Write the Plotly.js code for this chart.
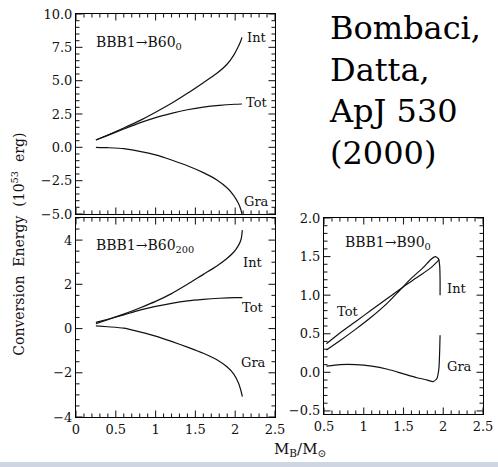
<!DOCTYPE html>
<html>
<head>
<meta charset="utf-8">
<script src="https://cdn.plot.ly/plotly-3.0.1.min.js"></script>
<style>html,body{margin:0;padding:0;background:#fff;}#chart{width:498px;height:467px;}</style>
</head>
<body>
<div id="chart"></div>
<script>
// Panel A: BBB1 -> B60_0
const aIntX = [0.25,0.4,0.6,0.8,1.0,1.2,1.4,1.6,1.77,1.9,1.98,2.03,2.065,2.085];
const aIntY = [0.55,0.92,1.45,2.0,2.63,3.3,4.05,4.85,5.55,6.25,6.9,7.45,7.9,8.25];
const aTotX = [0.25,0.4,0.6,0.8,1.0,1.2,1.4,1.6,1.8,2.0,2.085];
const aTotY = [0.55,0.9,1.37,1.83,2.23,2.55,2.82,3.02,3.15,3.23,3.25];
const aGraX = [0.25,0.4,0.6,0.8,1.0,1.2,1.4,1.6,1.77,1.9,1.98,2.04,2.07,2.085];
const aGraY = [0.0,-0.03,-0.1,-0.3,-0.57,-0.95,-1.38,-1.9,-2.45,-3.05,-3.6,-4.2,-4.65,-5.0];

// Panel B: BBB1 -> B60_200
const bIntX = [0.25,0.4,0.6,0.8,1.0,1.2,1.4,1.6,1.77,1.9,1.98,2.04,2.075,2.09];
const bIntY = [0.22,0.4,0.65,0.93,1.23,1.58,2.0,2.45,2.83,3.18,3.45,3.75,4.05,4.45];
const bTotX = [0.25,0.4,0.6,0.8,1.0,1.2,1.4,1.6,1.8,2.0,2.09];
const bTotY = [0.28,0.42,0.62,0.83,1.0,1.14,1.25,1.32,1.37,1.4,1.4];
const bGraX = [0.25,0.4,0.6,0.8,1.0,1.2,1.4,1.6,1.77,1.9,1.98,2.04,2.07,2.09];
const bGraY = [0.12,0.08,0.02,-0.15,-0.34,-0.58,-0.84,-1.12,-1.41,-1.74,-2.05,-2.45,-2.78,-3.08];

// Panel C: BBB1 -> B90_0
const cTotX = [0.53,0.7,0.9,1.1,1.3,1.5,1.7,1.85,1.95];
const cTotY = [0.37,0.51,0.66,0.81,0.96,1.11,1.25,1.36,1.46];
const cIntX = [0.53,0.7,0.9,1.1,1.3,1.45,1.6,1.75,1.84,1.9,1.94,1.955,1.96,1.96];
const cIntY = [0.29,0.41,0.56,0.72,0.9,1.06,1.22,1.36,1.46,1.5,1.47,1.38,1.2,1.0];
const cGraX = [0.53,0.7,0.9,1.1,1.3,1.5,1.67,1.8,1.87,1.92,1.945,1.955,1.96];
const cGraY = [0.08,0.1,0.1,0.08,0.04,-0.02,-0.07,-0.1,-0.12,-0.08,0.05,0.28,0.48];

const panelNames = ['BBB1→B60<sub>0</sub>','BBB1→B60<sub>200</sub>','BBB1→B90<sub>0</sub>'];
const curveNames = ['Int','Tot','Gra'];
const citation = ['Bombaci,','Datta,','ApJ 530','(2000)'];

const SERIF = 'DejaVu Serif, serif';
const W = 498, H = 467;
const dom = {
  xAB:[0.1526,0.5522], xC:[0.6506,0.9699],
  yA:[0.5418,0.970], yB:[0.1071,0.5332], yC:[0.1135,0.5332]
};
const rng = { xAB:[0,2.5], xC:[0.5,2.5], yA:[-5,10], yB:[-4,5], yC:[-0.54,2.0] };

const lineStyle = {color:'#111', width:1.2, shape:'spline', smoothing:0.6};
function tr(x,y,xa,ya){ return {x:x,y:y,xaxis:xa,yaxis:ya,mode:'lines',line:lineStyle,hoverinfo:'skip'}; }

// inside frame tick marks on all four sides, generated from the axis steps
function seq(a,b,s){ const out=[]; const n=Math.round((b-a)/s); for(let i=0;i<=n;i++) out.push(+(a+i*s).toFixed(4)); return out; }
const MAJ = 6.5, MIN = 3.5;
function tickTrace(xa, ya, xd, yd, xr, yr, xMaj, xMin, yMaj, yMin){
  const wPx = (xd[1]-xd[0])*W, hPx = (yd[1]-yd[0])*H;
  const dx = (xr[1]-xr[0])/wPx, dy = (yr[1]-yr[0])/hPx;
  const isMaj = (v, arr) => arr.some(m => Math.abs(m-v) < 1e-6);
  const xs = xMaj.map(v=>[v,MAJ]).concat(xMin.filter(v=>!isMaj(v,xMaj)).map(v=>[v,MIN]));
  const ys = yMaj.map(v=>[v,MAJ]).concat(yMin.filter(v=>!isMaj(v,yMaj)).map(v=>[v,MIN]));
  const X = [], Y = [];
  xs.forEach(([v,len]) => {
    X.push(v, v, null, v, v, null);
    Y.push(yr[0], yr[0]+len*dy, null, yr[1], yr[1]-len*dy, null);
  });
  ys.forEach(([v,len]) => {
    X.push(xr[0], xr[0]+len*dx, null, xr[1], xr[1]-len*dx, null);
    Y.push(v, v, null, v, v, null);
  });
  return {x:X, y:Y, xaxis:xa, yaxis:ya, mode:'lines', connectgaps:false,
          line:{color:'#222', width:1.1}, hoverinfo:'skip'};
}

const data = [
  tickTrace('x2','y2', dom.xAB, dom.yA, rng.xAB, rng.yA, seq(0,2.5,0.5), seq(0,2.5,0.1), seq(-5,10,2.5), seq(-5,10,0.5)),
  tickTrace('x','y',   dom.xAB, dom.yB, rng.xAB, rng.yB, seq(0,2.5,0.5), seq(0,2.5,0.1), seq(-4,4,2),     seq(-4,5,0.5)),
  tickTrace('x3','y3', dom.xC,  dom.yC, rng.xC,  rng.yC, seq(0.5,2.5,0.5), seq(0.5,2.5,0.1), seq(-0.5,2,0.5), seq(-0.5,2,0.1)),
  tr(aIntX,aIntY,'x2','y2'), tr(aTotX,aTotY,'x2','y2'), tr(aGraX,aGraY,'x2','y2'),
  tr(bIntX,bIntY,'x','y'), tr(bTotX,bTotY,'x','y'), tr(bGraX,bGraY,'x','y'),
  tr(cTotX,cTotY,'x3','y3'), tr(cIntX,cIntY,'x3','y3'), tr(cGraX,cGraY,'x3','y3')
];

const tickFont = {family:SERIF, size:13, color:'#111'};
function ax(o){
  return Object.assign({
    showline:true, linecolor:'#000', linewidth:1, mirror:true, ticks:'',
    showgrid:false, zeroline:false, tickfont:tickFont, fixedrange:true
  }, o);
}

const lab = (xref,yref,x,y,text,size,extra) => Object.assign({xref:xref,yref:yref,x:x,y:y,text:text,showarrow:false,font:{family:SERIF,size:size,color:'#111'}}, extra||{});

const layout = {
  width:W, height:H, margin:{l:0,r:0,t:0,b:0},
  paper_bgcolor:'#fff', plot_bgcolor:'rgba(0,0,0,0)', showlegend:false,
  xaxis: ax({domain:dom.xAB, range:rng.xAB, anchor:'y', tick0:0, dtick:0.5}),
  xaxis2: ax({domain:dom.xAB, range:rng.xAB, anchor:'y2', tick0:0, dtick:0.5, showticklabels:false}),
  xaxis3: ax({domain:dom.xC, range:rng.xC, anchor:'y3', tick0:0, dtick:0.5}),
  yaxis: ax({domain:dom.yB, range:rng.yB, anchor:'x', tick0:0, dtick:2}),
  yaxis2: ax({domain:dom.yA, range:rng.yA, anchor:'x2', tick0:0, dtick:2.5, tickformat:'.1f'}),
  yaxis3: ax({domain:dom.yC, range:rng.yC, anchor:'x3', tick0:0, dtick:0.5, tickformat:'.1f'}),
  annotations: [
    lab('x2','y2',0.22,7.8,panelNames[0],14,{xanchor:'left'}),
    lab('x','y',0.22,3.74,panelNames[1],14,{xanchor:'left'}),
    lab('x3','y3',0.74,1.68,panelNames[2],14,{xanchor:'left'}),

    lab('x2','y2',2.27,8.27,curveNames[0],13),
    lab('x2','y2',2.27,3.4,curveNames[1],13),
    lab('x2','y2',2.27,-4.1,curveNames[2],13),

    lab('x','y',2.22,3.0,curveNames[0],13),
    lab('x','y',2.22,0.95,curveNames[1],13),
    lab('x','y',2.23,-1.53,curveNames[2],13),

    lab('x3','y3',2.17,1.08,curveNames[0],13),
    lab('x3','y3',0.79,0.79,curveNames[1],13),
    lab('x3','y3',2.2,0.08,curveNames[2],13),

    lab('paper','paper',0.014,0.478,'Conversion  Energy  (10<sup>53</sup>  erg)',14,{textangle:-90}),
    lab('paper','paper',0.602,6/H,'M<sub>B</sub>/M<sub>⊙</sub>',15,{yanchor:'bottom'}),
    {xref:'paper',yref:'paper',x:0.6566,y:1-7/H,xanchor:'left',yanchor:'top',align:'left',showarrow:false,
     text:citation.join('<br>'), font:{family:SERIF,size:32,color:'#000'}}
  ],
  shapes: [
    {type:'rect',xref:'paper',yref:'paper',x0:0,x1:1,y0:0,y1:5/H,fillcolor:'#cdd6e2',line:{width:0},layer:'below'}
  ]
};

Plotly.newPlot('chart', data, layout, {displayModeBar:false});
</script>
</body>
</html>
